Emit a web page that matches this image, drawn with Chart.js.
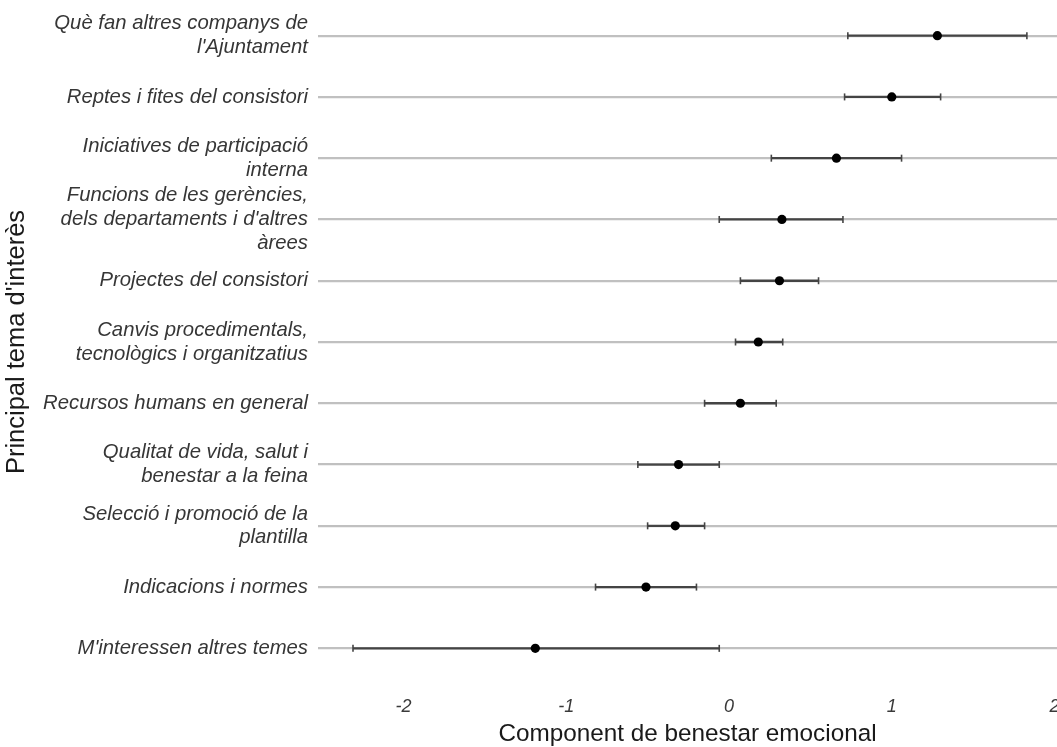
<!DOCTYPE html>
<html lang="ca">
<head>
<meta charset="utf-8">
<title>Component de benestar emocional per tema d'interès</title>
<script src="https://cdn.jsdelivr.net/npm/chart.js@4.4.1/dist/chart.umd.min.js"></script>
<style>
  html, body { margin: 0; padding: 0; background: #ffffff; }
  #wrap { width: 1057px; height: 747px; }
</style>
</head>
<body>
<div id="wrap"><canvas id="chart" width="1057" height="747"></canvas></div>
<script>
// Topics, top to bottom (multi-line labels as arrays)
const categories = [
  ["Què fan altres companys de", "l'Ajuntament"],
  ["Reptes i fites del consistori"],
  ["Iniciatives de participació", "interna"],
  ["Funcions de les gerències,", "dels departaments i d'altres", "àrees"],
  ["Projectes del consistori"],
  ["Canvis procedimentals,", "tecnològics i organitzatius"],
  ["Recursos humans en general"],
  ["Qualitat de vida, salut i", "benestar a la feina"],
  ["Selecció i promoció de la", "plantilla"],
  ["Indicacions i normes"],
  ["M'interessen altres temes"]
];

// Point estimate and interval bounds for each topic
const estimates = [1.28, 1.00, 0.66, 0.325, 0.31, 0.18, 0.07, -0.31, -0.33, -0.51, -1.19];
const lower     = [0.73, 0.71, 0.26, -0.06, 0.07, 0.04, -0.15, -0.56, -0.50, -0.82, -2.31];
const upper     = [1.83, 1.30, 1.06, 0.70, 0.55, 0.33, 0.29, -0.06, -0.15, -0.20, -0.06];

// Axis ticks
const xTicks = [-2, -1, 0, 1, 2];

const FONT = "'Liberation Sans', Arial, Helvetica, sans-serif";
const WHISKER = '#444444';

// Points go first so they are painted above the whiskers
const datasets = [{
  type: 'scatter',
  label: 'estimate',
  data: estimates.map((v, i) => ({ x: v, y: i })),
  pointRadius: 4.6,
  pointHoverRadius: 4.6,
  backgroundColor: '#000000',
  borderColor: '#000000',
  borderWidth: 0
}];

categories.forEach((_, i) => {
  datasets.push({
    type: 'line',
    label: 'interval ' + i,
    data: [{ x: lower[i], y: i }, { x: upper[i], y: i }],
    borderColor: WHISKER,
    borderWidth: 2.3,
    pointStyle: 'line',
    pointRotation: 90,
    pointRadius: 3.5,
    pointHoverRadius: 3.5,
    pointBorderColor: WHISKER,
    pointBorderWidth: 1.6,
    fill: false,
    tension: 0
  });
});

new Chart(document.getElementById('chart'), {
  data: { datasets },
  options: {
    responsive: false,
    animation: false,
    devicePixelRatio: 1,
    layout: { autoPadding: false, padding: { top: 5, right: 0, bottom: 0, left: 0 } },
    plugins: { legend: { display: false }, tooltip: { enabled: false } },
    events: [],
    scales: {
      x: {
        type: 'linear',
        min: -2.525,
        max: 2.015,
        grid: { display: false, drawTicks: false },
        border: { display: false },
        afterBuildTicks: (scale) => { scale.ticks = xTicks.map(v => ({ value: v })); },
        ticks: {
          autoSkip: false,
          includeBounds: false,
          maxRotation: 0,
          padding: 17,
          color: '#3a3a3a',
          font: { family: FONT, size: 18, style: 'italic' },
          callback: (v) => String(v)
        },
        title: {
          display: true,
          text: 'Component de benestar emocional',
          color: '#1a1a1a',
          font: { family: FONT, size: 24.3 },
          padding: { top: 0, bottom: -2 }
        },
        afterFit: (scale) => {
          scale.height = 68;
          scale.paddingLeft = 0;
          scale.paddingRight = 0;
        }
      },
      y: {
        type: 'linear',
        reverse: true,
        min: -0.5,
        max: categories.length - 0.5,
        grid: { color: '#c0c0c0', lineWidth: 2.2, drawTicks: false },
        border: { display: false },
        afterBuildTicks: (scale) => { scale.ticks = categories.map((_, i) => ({ value: i })); },
        ticks: {
          autoSkip: false,
          padding: 10,
          color: '#363636',
          font: { family: FONT, size: 20.3, style: 'italic', lineHeight: 1.17 },
          callback: (v) => categories[v]
        },
        title: {
          display: true,
          text: "Principal tema d'interès",
          color: '#1a1a1a',
          font: { family: FONT, size: 25.5 },
          padding: { top: 1.5, bottom: 0 }
        },
        afterFit: (scale) => {
          scale.width = 318;
          scale.paddingTop = 0;
          scale.paddingBottom = 0;
        }
      }
    }
  }
});
</script>
</body>
</html>
